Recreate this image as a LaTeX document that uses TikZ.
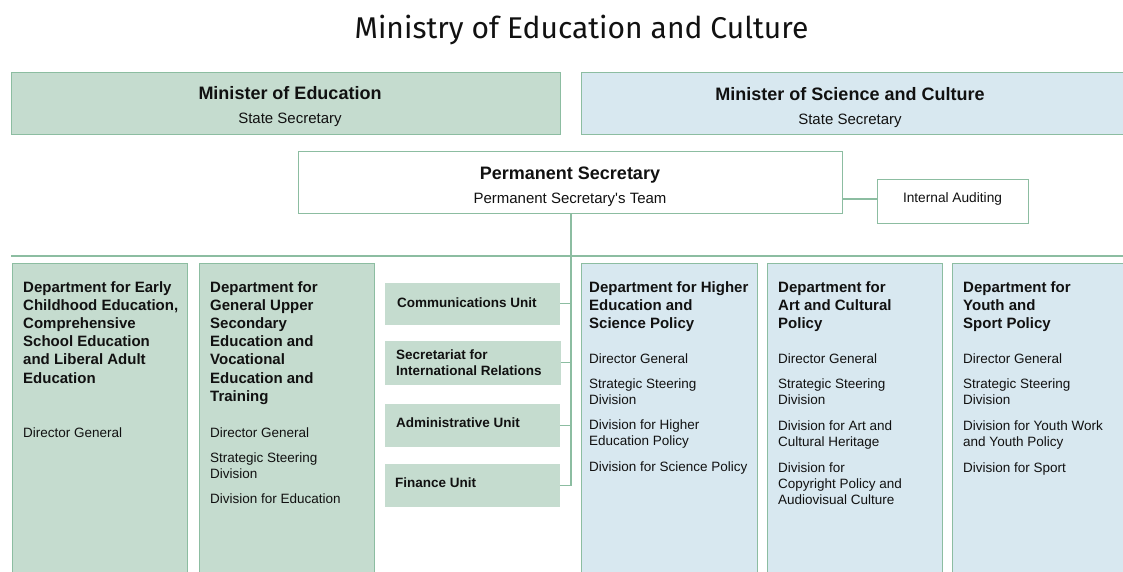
\documentclass[tikz,border=0pt]{standalone}
\usepackage{fontspec}
\setmainfont{Liberation Sans}[Ligatures=TeXOff]
\newfontfamily\titlefont{Fira Sans}
\definecolor{gfill}{HTML}{C5DCCF}
\definecolor{bfill}{HTML}{D8E8F0}
\definecolor{gline}{HTML}{8CBDA1}
\definecolor{ink}{HTML}{111111}
\newcommand\fhd{\bfseries\fontsize{15}{18}\selectfont}
\newcommand\frg{\fontsize{13.5}{16}\selectfont}
\newcommand\fut{\bfseries\fontsize{13.5}{16}\selectfont}
\newcommand\fmin{\bfseries\fontsize{18}{22}\selectfont}
\newcommand\fsub{\fontsize{15}{18}\selectfont}
\tikzset{
  box/.style={anchor=north west,inner sep=0pt,line width=1.3pt},
  gbox/.style={box,fill=gfill,draw=gline},
  bbox/.style={box,fill=bfill,draw=gline},
  wbox/.style={box,fill=white,draw=gline},
  ubox/.style={box,fill=gfill,draw=none},
  conn/.style={draw=gline,line width=1.3pt},
  hd/.style={anchor=base west,inner sep=0pt,text=ink,font=\fhd},
  rg/.style={anchor=base west,inner sep=0pt,text=ink,font=\frg},
  ut/.style={anchor=base west,inner sep=0pt,text=ink,font=\fut},
  ct/.style={anchor=base,inner sep=0pt,text=ink},
}
\begin{document}
\begin{tikzpicture}[x=1pt,y=-1pt]
\useasboundingbox (0,0) rectangle (1123,572);
\clip (0,0) rectangle (1123,572);
% title
\node[ct,font=\titlefont\fontsize{30}{36}\selectfont] (title) at (581.5,39) {Ministry of Education and Culture};
% ministers
\node[gbox,minimum width=549pt,minimum height=62pt] (me) at (11,72) {};
\node[bbox,minimum width=560pt,minimum height=62pt] (msc) at (581,72) {};
\node[ct,font=\fmin] (met) at (290,99.5) {Minister of Education};
\node[ct,font=\fsub] (mes) at (290,123.5) {State Secretary};
\node[ct,font=\fmin] (msct) at (850,100.5) {Minister of Science and Culture};
\node[ct,font=\fsub] (mscs) at (850,124.5) {State Secretary};
% permanent secretary
\node[wbox,minimum width=544pt,minimum height=62pt] (ps) at (298,151) {};
\node[ct,font=\fmin] (pst) at (570,179.5) {Permanent Secretary};
\node[ct,font=\fsub] (pss) at (570,203.5) {Permanent Secretary's Team};
\node[wbox,minimum width=151pt,minimum height=44pt] (ia) at (877,179) {};
\node[ct,font=\fontsize{13.7}{16}\selectfont] (iat) at (952.5,202.5) {Internal Auditing};
\coordinate (iac) at (877,199);
\draw[conn] (iac -| ps.east) -- (iac);
% horizontal rule
\coordinate (hl) at (11,256);
\coordinate (hr) at (1130,256);
\draw[conn] (hl) -- (hr);
% units
\node[ubox,minimum width=175pt,minimum height=42pt] (comm) at (384,282) {};
\node[ubox,minimum width=176pt,minimum height=44pt] (sec) at (384,340) {};
\node[ubox,minimum width=175pt,minimum height=43pt] (adm) at (384,403) {};
\node[ubox,minimum width=175pt,minimum height=43pt] (fin) at (384,463) {};
\node[ut] (commt) at (397,307) {Communications Unit};
\node[ut] (sect1) at (396,359) {Secretariat for};
\node[ut] (sect2) at (396,375) {International Relations};
\node[ut] (admt) at (396,427) {Administrative Unit};
\node[ut] (fint) at (395,487) {Finance Unit};
\coordinate (tk) at (571,213);
\draw[conn] (tk) |- (fin.east);
\draw[conn] (comm.east) -- (comm.east -| tk);
\draw[conn] (sec.east) -- (sec.east -| tk);
\draw[conn] (adm.east) -- (adm.east -| tk);
% departments
\node[gbox,minimum width=175pt,minimum height=330pt] (d1) at (12,263) {};
\node[gbox,minimum width=175pt,minimum height=330pt] (d2) at (199,263) {};
\node[bbox,minimum width=176pt,minimum height=330pt] (d3) at (581,263) {};
\node[bbox,minimum width=175pt,minimum height=330pt] (d4) at (767,263) {};
\node[bbox,minimum width=190pt,minimum height=330pt] (d5) at (952,263) {};
% dept 1
\node[hd] (d1a) at (23,292) {Department for Early};
\node[hd] (d1b) at (23,310.2) {Childhood Education,};
\node[hd] (d1c) at (23,328.4) {Comprehensive};
\node[hd] (d1d) at (23,346.6) {School Education};
\node[hd] (d1e) at (23,364.8) {and Liberal Adult};
\node[hd] (d1f) at (23,383) {Education};
\node[rg] (d1g) at (23,437) {Director General};
% dept 2
\node[hd] (d2a) at (210,292) {Department for};
\node[hd] (d2b) at (210,310.2) {General Upper};
\node[hd] (d2c) at (210,328.4) {Secondary};
\node[hd] (d2d) at (210,346.6) {Education and};
\node[hd] (d2e) at (210,364.8) {Vocational};
\node[hd] (d2f) at (210,383) {Education and};
\node[hd] (d2g) at (210,401.2) {Training};
\node[rg] (d2h) at (210,437) {Director General};
\node[rg] (d2i) at (210,462) {Strategic Steering};
\node[rg] (d2j) at (210,478) {Division};
\node[rg] (d2k) at (210,503) {Division for Education};
% dept 3
\node[hd] (d3a) at (589,292) {Department for Higher};
\node[hd] (d3b) at (589,310) {Education and};
\node[hd] (d3c) at (589,328) {Science Policy};
\node[rg] (d3d) at (589,363) {Director General};
\node[rg] (d3e) at (589,388) {Strategic Steering};
\node[rg] (d3f) at (589,404) {Division};
\node[rg] (d3g) at (589,429) {Division for Higher};
\node[rg] (d3h) at (589,445) {Education Policy};
\node[rg] (d3i) at (589,471) {Division for Science Policy};
% dept 4
\node[hd] (d4a) at (778,292) {Department for};
\node[hd] (d4b) at (778,310) {Art and Cultural};
\node[hd] (d4c) at (778,328) {Policy};
\node[rg] (d4d) at (778,363) {Director General};
\node[rg] (d4e) at (778,388) {Strategic Steering};
\node[rg] (d4f) at (778,404) {Division};
\node[rg] (d4g) at (778,430) {Division for Art and};
\node[rg] (d4h) at (778,446) {Cultural Heritage};
\node[rg] (d4i) at (778,472) {Division for};
\node[rg] (d4j) at (778,488) {Copyright Policy and};
\node[rg] (d4k) at (778,504) {Audiovisual Culture};
% dept 5
\node[hd] (d5a) at (963,292) {Department for};
\node[hd] (d5b) at (963,310) {Youth and};
\node[hd] (d5c) at (963,328) {Sport Policy};
\node[rg] (d5d) at (963,363) {Director General};
\node[rg] (d5e) at (963,388) {Strategic Steering};
\node[rg] (d5f) at (963,404) {Division};
\node[rg] (d5g) at (963,430) {Division for Youth Work};
\node[rg] (d5h) at (963,446) {and Youth Policy};
\node[rg] (d5i) at (963,472) {Division for Sport};
\end{tikzpicture}
\end{document}
